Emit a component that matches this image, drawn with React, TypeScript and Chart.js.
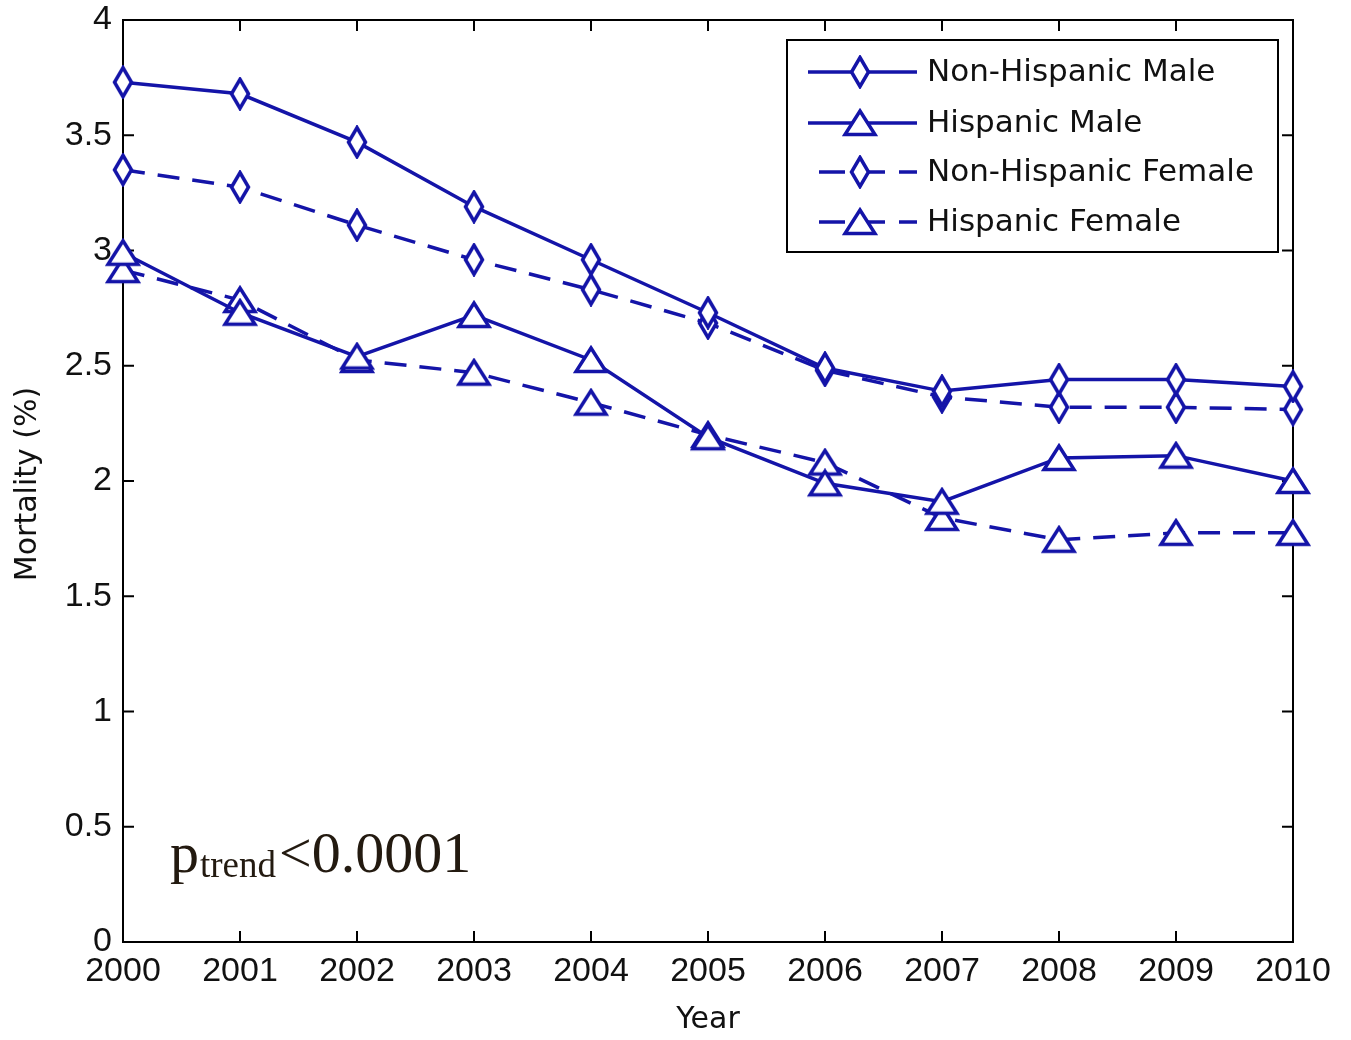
import React, { useEffect, useRef } from "react";
import { Chart, registerables } from "chart.js";

Chart.register(...registerables);

const years = [2000, 2001, 2002, 2003, 2004, 2005, 2006, 2007, 2008, 2009, 2010];
const nonHispanicMale = [3.73, 3.68, 3.47, 3.19, 2.96, 2.73, 2.49, 2.39, 2.44, 2.44, 2.41];
const hispanicMale = [2.99, 2.73, 2.54, 2.72, 2.525, 2.19, 1.99, 1.91, 2.1, 2.11, 2.0];
const nonHispanicFemale = [3.35, 3.275, 3.11, 2.96, 2.83, 2.685, 2.48, 2.365, 2.32, 2.32, 2.31];
const hispanicFemale = [2.915, 2.785, 2.525, 2.47, 2.34, 2.2, 2.08, 1.84, 1.745, 1.775, 1.775];
const seriesLabels = ["Non-Hispanic Male", "Hispanic Male", "Non-Hispanic Female", "Hispanic Female"];
const yTicks = [0, 0.5, 1, 1.5, 2, 2.5, 3, 3.5, 4];

const BLUE = "#1414a8";
const DASH = [22, 13];

function makeDiamond(): HTMLCanvasElement {
  const c = document.createElement("canvas");
  c.width = 22;
  c.height = 34;
  const g = c.getContext("2d")!;
  g.beginPath();
  g.moveTo(11, 2.5);
  g.lineTo(19.5, 17);
  g.lineTo(11, 31.5);
  g.lineTo(2.5, 17);
  g.closePath();
  g.fillStyle = "#ffffff";
  g.fill();
  g.lineWidth = 3.5;
  g.strokeStyle = BLUE;
  g.stroke();
  return c;
}

function makeTriangle(): HTMLCanvasElement {
  const c = document.createElement("canvas");
  c.width = 36;
  c.height = 30;
  const g = c.getContext("2d")!;
  g.beginPath();
  g.moveTo(18, 3);
  g.lineTo(33, 26.5);
  g.lineTo(3, 26.5);
  g.closePath();
  g.fillStyle = "#ffffff";
  g.fill();
  g.lineWidth = 3.5;
  g.strokeStyle = BLUE;
  g.stroke();
  return c;
}

export default function App() {
  const ref = useRef<HTMLCanvasElement | null>(null);

  useEffect(() => {
    if (!ref.current) return;
    const diamond = makeDiamond();
    const triangle = makeTriangle();
    const toPts = (arr: number[]) => arr.map((v, i) => ({ x: years[i], y: v }));
    const allSeries = [nonHispanicMale, hispanicMale, nonHispanicFemale, hispanicFemale];
    const markers = [diamond, triangle, diamond, triangle];
    const dashed = [false, false, true, true];

    const framePlugin = {
      id: "frame",
      beforeDatasetsDraw(chart: any) {
        const { ctx, chartArea } = chart;
        const { left, right, top, bottom } = chartArea;
        const xs = chart.scales.x;
        const ys = chart.scales.y;
        ctx.save();
        ctx.strokeStyle = "#000";
        ctx.lineWidth = 2;
        ctx.strokeRect(left, top, right - left, bottom - top);
        ctx.beginPath();
        const tl = 11;
        years.forEach((yr) => {
          const px = xs.getPixelForValue(yr);
          ctx.moveTo(px, bottom);
          ctx.lineTo(px, bottom - tl);
          ctx.moveTo(px, top);
          ctx.lineTo(px, top + tl);
        });
        yTicks.forEach((v) => {
          const py = ys.getPixelForValue(v);
          ctx.moveTo(left, py);
          ctx.lineTo(left + tl, py);
          ctx.moveTo(right, py);
          ctx.lineTo(right - tl, py);
        });
        ctx.stroke();
        ctx.restore();
      },
      afterDraw(chart: any) {
        const { ctx, chartArea } = chart;
        ctx.save();
        ctx.fillStyle = "#111";
        ctx.font = "30px 'DejaVu Sans'";
        ctx.textAlign = "center";
        ctx.textBaseline = "middle";
        ctx.fillText("Year", (chartArea.left + chartArea.right) / 2, 1020);
        ctx.save();
        ctx.translate(28, 484);
        ctx.rotate(-Math.PI / 2);
        ctx.fillText("Mortality (%)", 0, 0);
        ctx.restore();

        const lx = 787, ly = 40, lw = 491, lh = 212;
        ctx.fillStyle = "#fff";
        ctx.fillRect(lx, ly, lw, lh);
        ctx.strokeStyle = "#000";
        ctx.lineWidth = 2;
        ctx.strokeRect(lx, ly, lw, lh);
        const rowY = [72, 123, 172, 222];
        seriesLabels.forEach((lab, i) => {
          const y = rowY[i];
          ctx.strokeStyle = BLUE;
          ctx.lineWidth = 3.5;
          ctx.beginPath();
          if (dashed[i]) {
            ctx.setLineDash([26, 14]);
            ctx.moveTo(819, y);
          } else {
            ctx.setLineDash([]);
            ctx.moveTo(808, y);
          }
          ctx.lineTo(917, y);
          ctx.stroke();
          ctx.setLineDash([]);
          const m = markers[i];
          ctx.drawImage(m, 860 - m.width / 2, y - m.height / 2);
          ctx.fillStyle = "#111";
          ctx.font = "31px 'DejaVu Sans'";
          ctx.textAlign = "left";
          ctx.textBaseline = "middle";
          ctx.fillText(lab, 927, y + 1);
        });

        ctx.fillStyle = "#231a10";
        ctx.textAlign = "left";
        ctx.textBaseline = "alphabetic";
        let x = 170;
        ctx.font = "58px 'Liberation Serif'";
        ctx.fillText("p", x, 872);
        x += ctx.measureText("p").width + 1;
        ctx.font = "37px 'Liberation Serif'";
        ctx.fillText("trend", x, 877);
        x += ctx.measureText("trend").width + 3;
        ctx.font = "58px 'Liberation Serif'";
        ctx.fillText("<0.0001", x, 872);
        ctx.restore();
      },
    };

    const chart = new Chart(ref.current, {
      type: "line",
      data: {
        datasets: allSeries.map((arr, i) => ({
          label: seriesLabels[i],
          data: toPts(arr),
          borderColor: BLUE,
          backgroundColor: BLUE,
          borderWidth: 3.5,
          borderDash: dashed[i] ? DASH : [],
          pointStyle: markers[i] as any,
          pointRadius: 10,
          tension: 0,
          fill: false,
          clip: false as any,
        })),
      },
      options: {
        animation: false,
        responsive: false,
        layout: { padding: { left: 0, top: 20, right: 58, bottom: 0 } },
        plugins: {
          legend: { display: false },
          tooltip: { enabled: false },
        },
        scales: {
          x: {
            type: "linear",
            min: 2000,
            max: 2010,
            ticks: {
              stepSize: 1,
              callback: (v: any) => String(v),
              font: { family: "'Liberation Sans'", size: 34 },
              color: "#111",
              padding: 9,
              maxRotation: 0,
              autoSkip: false,
            },
            grid: { display: false, drawTicks: false },
            border: { display: false },
            afterFit: (s: any) => {
              s.height = 98;
              s.paddingLeft = 0;
              s.paddingRight = 0;
            },
          },
          y: {
            type: "linear",
            min: 0,
            max: 4,
            ticks: {
              stepSize: 0.5,
              callback: (v: any) => String(v),
              font: { family: "'Liberation Sans'", size: 34 },
              color: "#111",
              padding: 11,
            },
            grid: { display: false, drawTicks: false },
            border: { display: false },
            afterFit: (s: any) => {
              s.width = 123;
              s.paddingTop = 0;
              s.paddingBottom = 0;
            },
          },
        },
      },
      plugins: [framePlugin],
    });
    return () => chart.destroy();
  }, []);

  return (
    <div style={{ position: "fixed", left: 0, top: 0, width: 1351, height: 1040, background: "#fff" }}>
      <canvas ref={ref} width={1351} height={1040} />
    </div>
  );
}
